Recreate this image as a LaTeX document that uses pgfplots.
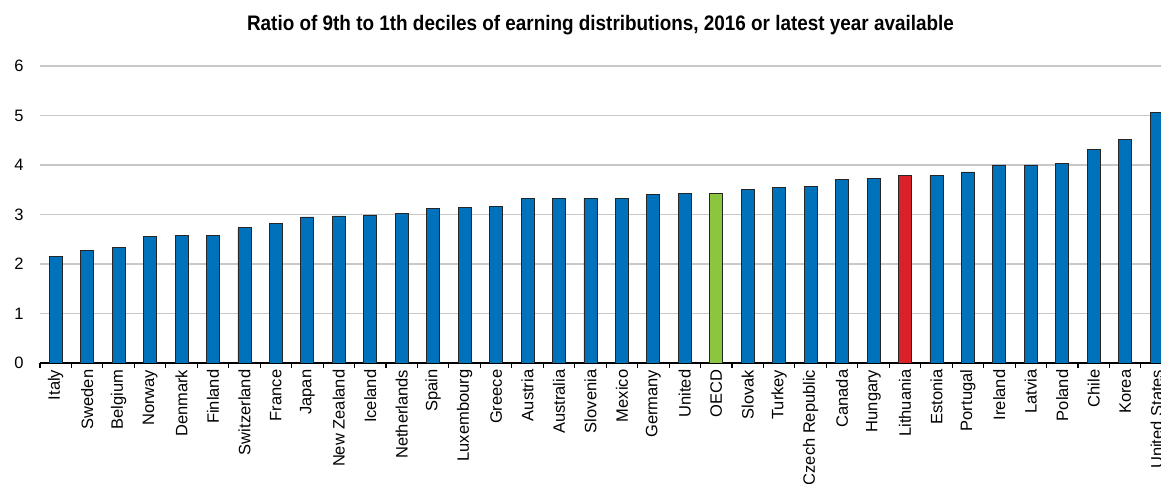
\documentclass[border=0pt]{standalone}
\usepackage{fontspec}
\setmainfont{Liberation Sans}
\newfontfamily\titlefont[FakeStretch=0.9]{Liberation Sans}
\usepackage{pgfplots}
\pgfplotsset{compat=1.18}
\usepackage{pgfplotstable}
\definecolor{barblue}{RGB}{0,114,188}
\definecolor{bargreen}{RGB}{140,198,63}
\definecolor{barred}{RGB}{218,32,40}
\definecolor{gridgray}{RGB}{200,200,200}
\pgfplotstableread{
x y
0 2.16
1 2.28
2 2.34
3 2.55
4 2.57
5 2.57
6 2.73
7 2.81
8 2.95
9 2.97
10 2.99
11 3.03
12 3.13
13 3.15
14 3.17
15 3.33
16 3.33
17 3.33
18 3.33
19 3.41
20 3.43
22 3.51
23 3.54
24 3.56
25 3.71
26 3.72
28 3.79
29 3.86
30 4.00
31 4.00
32 4.04
33 4.32
34 4.51
35 5.06
}\bluedata
\pgfplotstableread{
x y
21 3.43
}\oecddata
\pgfplotstableread{
x y
27 3.79
}\ltudata
\begin{document}
\begin{tikzpicture}
\begin{axis}[
  scale only axis,
  width=1121bp, height=297bp,
  xmin=-0.5, xmax=35.14, ymin=0, ymax=6,
  ytick={0,1,...,6},
  ymajorgrids=true,
  grid style={draw=gridgray, line width=1.3bp},
  axis x line*=bottom, axis y line*=left,
  y axis line style={draw=none},
  x axis line style={line width=1.3bp, black},
  xtick={0,1,...,35},
  xticklabels={Italy,Sweden,Belgium,Norway,Denmark,Finland,Switzerland,France,Japan,New Zealand,Iceland,Netherlands,Spain,Luxembourg,Greece,Austria,Australia,Slovenia,Mexico,Germany,United,OECD,Slovak,Turkey,Czech Republic,Canada,Hungary,Lithuania,Estonia,Portugal,Ireland,Latvia,Poland,Chile,Korea,United States},
  major x tick style={draw=none},
  minor xtick={-0.5,0.5,...,35.5},
  minor tick length=5bp,
  minor x tick style={black, line width=1.1bp},
  tick align=inside,
  ytick style={draw=none},
  /pgf/number format/assume math mode=true,
  xticklabel style={rotate=90, anchor=east, xshift=1bp, font=\fontsize{16.5bp}{16.5bp}\selectfont},
  yticklabel style={font=\fontsize{16.5bp}{16.5bp}\selectfont, xshift=-13bp},
  title={Ratio of 9th to 1th deciles of earning distributions, 2016 or latest year available},
  title style={font=\titlefont\bfseries\fontsize{21bp}{21bp}\selectfont, at={(0.5,1)}, anchor=base, yshift=30bp},
  ybar, bar width=13bp,
  clip=true,
]
\addplot[ybar, bar shift=0pt, fill=barblue, draw=black!85, line width=0.8bp] table[x=x,y=y] {\bluedata};
\addplot[ybar, bar shift=0pt, fill=bargreen, draw=black!85, line width=0.8bp] table[x=x,y=y] {\oecddata};
\addplot[ybar, bar shift=0pt, fill=barred, draw=black!85, line width=0.8bp] table[x=x,y=y] {\ltudata};
\end{axis}
\pgfresetboundingbox
\path[use as bounding box] ([xshift=-40bp,yshift=-121bp]current axis.south west) rectangle ([yshift=66bp]current axis.north east);
\end{tikzpicture}
\end{document}
